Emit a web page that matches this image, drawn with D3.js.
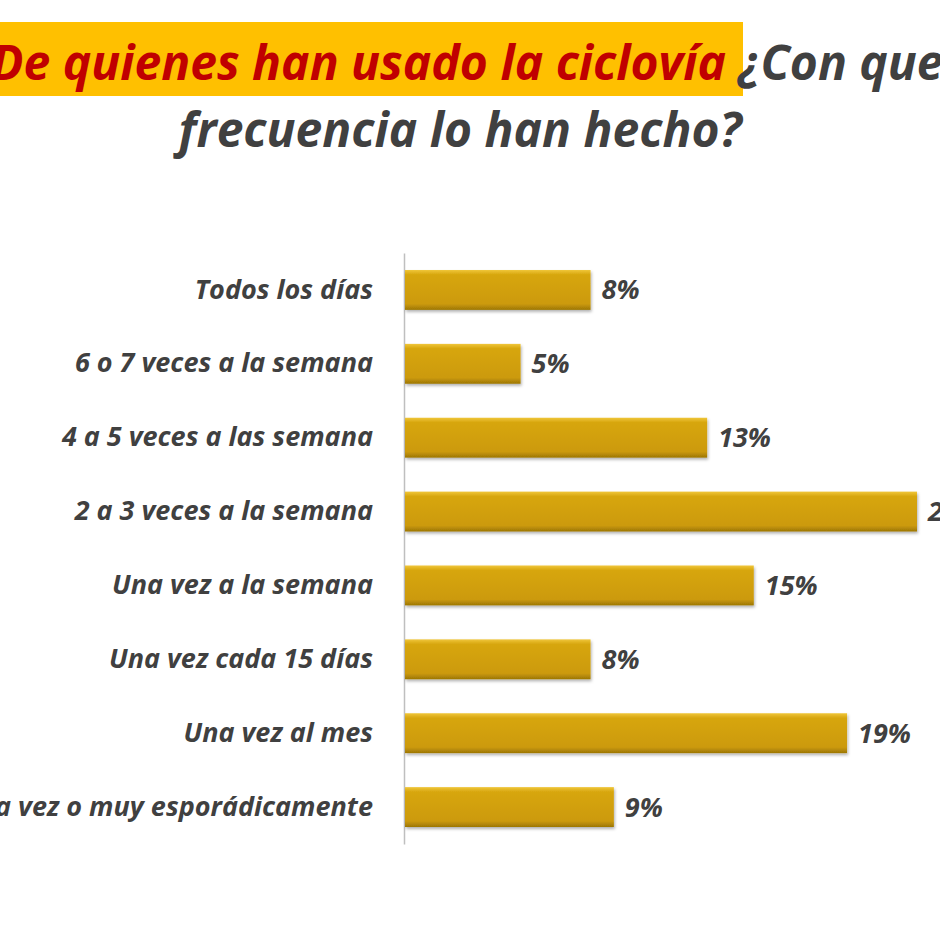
<!DOCTYPE html>
<html>
<head>
<meta charset="utf-8">
<script src="https://cdn.jsdelivr.net/npm/d3@7"></script>
<style>
  body { margin: 0; background: #fff; }
  svg { display: block; }
  text { font-family: "Open Sans", sans-serif; font-style: italic; font-weight: bold; }
</style>
</head>
<body>
<div id="chart"></div>
<script>

var categories = [
  "Todos los días",
  "6 o 7 veces a la semana",
  "4 a 5 veces a las semana",
  "2 a 3 veces a la semana",
  "Una vez a la semana",
  "Una vez cada 15 días",
  "Una vez al mes",
  "Una vez o muy esporádicamente"
];
var values = [8, 5, 13, 22, 15, 8, 19, 9];

var titleHighlight = "De quienes han usado la ciclovía";
var titleRest = " ¿Con que";
var titleLine2 = "frecuencia lo han hecho?";

var width = 940, height = 940;
var margin = { left: 404, right: 23, top: 253, bottom: 96 };

var svg = d3.select("#chart")
  .append("svg")
  .attr("width", width)
  .attr("height", height);

var defs = svg.append("defs");
var grad = defs.append("linearGradient")
  .attr("id", "barGrad")
  .attr("x1", 0).attr("y1", 0).attr("x2", 0).attr("y2", 1);
grad.append("stop").attr("offset", "0%").attr("stop-color", "#f0c63a");
grad.append("stop").attr("offset", "12%").attr("stop-color", "#d7a60e");
grad.append("stop").attr("offset", "85%").attr("stop-color", "#cc9a08");
grad.append("stop").attr("offset", "100%").attr("stop-color", "#9c7606");

var shadow = defs.append("filter").attr("id", "shadow")
  .attr("x", "-5%").attr("y", "-20%").attr("width", "110%").attr("height", "160%");
shadow.append("feDropShadow")
  .attr("dx", 1).attr("dy", 2).attr("stdDeviation", 1.5)
  .attr("flood-color", "#000").attr("flood-opacity", 0.3);

// title
svg.append("rect")
  .attr("x", 0).attr("y", 22)
  .attr("width", 743).attr("height", 74)
  .attr("fill", "#ffc000");

var t1 = svg.append("text")
  .attr("x", -9)
  .attr("y", 80)
  .style("font-size", "48px");
t1.append("tspan").attr("fill", "#c00000").text(titleHighlight);
t1.append("tspan").attr("fill", "#404040").text(titleRest);

svg.append("text")
  .attr("x", 460)
  .attr("y", 147)
  .attr("text-anchor", "middle")
  .attr("fill", "#404040")
  .style("font-size", "48px")
  .text(titleLine2);

var g = svg.append("g");

var x = d3.scaleLinear()
  .domain([0, 22])
  .range([margin.left, margin.left + 513]);

var y = d3.scaleBand()
  .domain(categories)
  .range([margin.top, height - margin.bottom])
  .paddingInner(0.46)
  .paddingOuter(0.23);

var yAxis = d3.axisLeft(y).tickSize(0).tickSizeOuter(0).tickPadding(31);

var ax = g.append("g")
  .attr("transform", "translate(" + margin.left + ",0)")
  .call(yAxis);
ax.select(".domain").attr("stroke", "#bfbfbf").attr("stroke-width", 1.5);
ax.selectAll(".tick text")
  .attr("fill", "#404040")
  .style("font-size", "27px")
  .style("font-family", "'Open Sans', sans-serif");

g.selectAll(".bar")
  .data(values)
  .enter()
  .append("rect")
  .attr("class", "bar")
  .attr("x", x(0) + 1)
  .attr("y", function(d, i) { return y(categories[i]); })
  .attr("width", function(d) { return x(d) - x(0) - 1; })
  .attr("height", y.bandwidth())
  .attr("fill", "url(#barGrad)")
  .attr("filter", "url(#shadow)");

g.selectAll(".val")
  .data(values)
  .enter()
  .append("text")
  .attr("class", "val")
  .attr("x", function(d) { return x(d) + 11; })
  .attr("y", function(d, i) { return y(categories[i]) + y.bandwidth() / 2; })
  .attr("dy", "0.35em")
  .attr("fill", "#404040")
  .style("font-size", "27px")
  .text(function(d) { return d + "%"; });

</script>
</body>
</html>
